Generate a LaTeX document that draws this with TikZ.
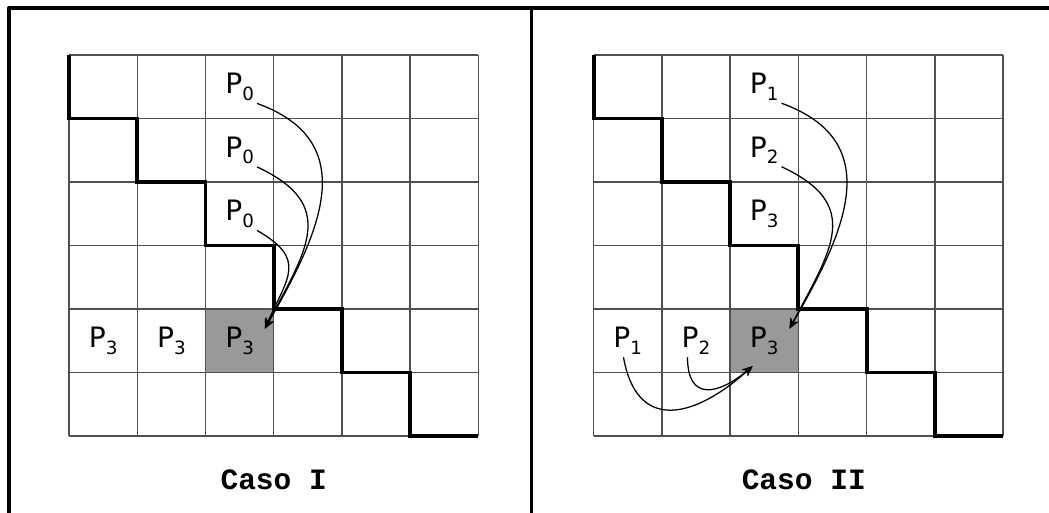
\documentclass[tikz,border=0pt]{standalone}
\usepackage{fontspec}
\setmainfont{DejaVu Sans}
\newfontfamily\capfont{Liberation Mono}
\usetikzlibrary{arrows.meta}
\definecolor{GridGray}{HTML}{505050}
\definecolor{CellGray}{HTML}{999999}
\newcommand{\plab}[1]{P\raisebox{-4.5pt}{\fontsize{13pt}{13pt}\selectfont #1}}

\begin{document}
\begin{tikzpicture}[
  frame/.style={line width=2.8pt,line join=round},
  gridline/.style={GridGray,line width=1pt},
  stair/.style={line width=2.8pt},
  plabel/.style={inner sep=2pt,font=\fontsize{20pt}{20pt}\selectfont},
  caption/.style={anchor=base,font=\capfont\bfseries\fontsize{21pt}{21pt}\selectfont},
  move/.style={-{Stealth[length=2.6mm,width=2.2mm]},line width=0.9pt}]
  \useasboundingbox (0,0) rectangle (26.225,12.825);
  \draw[frame] (0.225,-0.2) -- (0.225,12.625) -- (26.5,12.625);
  \draw[frame] (13.2875,-0.2) -- (13.2875,12.625);
  % the two boards
  \foreach \dx in {1.725,14.84}{
    \begin{scope}[shift={(\dx,1.925)},x=1.706cm,y=1.5875cm]
      \fill[CellGray] (2,1) rectangle (3,2);
      \foreach \i in {0,...,6}{
        \draw[gridline] (\i,0) -- (\i,6);
        \draw[gridline] (0,\i) -- (6,\i);
      }
      \draw[stair] (0,6) -- (0,5) -- (1,5) -- (1,4) -- (2,4) -- (2,3) -- (3,3)
        -- (3,2) -- (4,2) -- (4,1) -- (5,1) -- (5,0) -- (6,0);
    \end{scope}
  }
  % Caso I
  \begin{scope}[shift={(1.725,1.925)},x=1.706cm,y=1.5875cm]
    \node[plabel] (a1) at (2.5,5.5) {\plab{0}};
    \node[plabel] (a2) at (2.5,4.5) {\plab{0}};
    \node[plabel] (a3) at (2.5,3.5) {\plab{0}};
    \node[plabel] (b1) at (0.5,1.5) {\plab{3}};
    \node[plabel] (b2) at (1.5,1.5) {\plab{3}};
    \node[plabel] (b3) at (2.5,1.5) {\plab{3}};
    \coordinate (tipI) at (2.87,1.69);
    \draw[move] (a1.south east) to[out=-20,in=60,looseness=1.27] (tipI);
    \draw[move] (a2.south east) to[out=-25,in=62,looseness=1.42] (tipI);
    \draw[move] (a3.south east) to[out=-30,in=66,looseness=1.5] (tipI);
    \node[caption] (capI) at (3,-0.85) {Caso I};
  \end{scope}
  % Caso II
  \begin{scope}[shift={(14.84,1.925)},x=1.706cm,y=1.5875cm]
    \node[plabel] (c1) at (2.5,5.5) {\plab{1}};
    \node[plabel] (c2) at (2.5,4.5) {\plab{2}};
    \node[plabel] (c3) at (2.5,3.5) {\plab{3}};
    \node[plabel] (d1) at (0.5,1.5) {\plab{1}};
    \node[plabel] (d2) at (1.5,1.5) {\plab{2}};
    \node[plabel] (d3) at (2.5,1.5) {\plab{3}};
    \coordinate (tipII) at (2.87,1.69);
    \coordinate (tipIII) at (2.33,1.10);
    \draw[move] (c1.south east) to[out=-20,in=60,looseness=1.27] (tipII);
    \draw[move] (c2.south east) to[out=-25,in=62,looseness=1.42] (tipII);
    \draw[move] ([xshift=-3pt]d1.south) to[out=-80,in=-138,looseness=1.53] (tipIII);
    \draw[move] ([xshift=-6pt]d2.south) to[out=-90,in=-140,looseness=1.74] (tipIII);
    \node[caption] (capII) at (3.08,-0.85) {Caso II};
  \end{scope}
\end{tikzpicture}
\end{document}
